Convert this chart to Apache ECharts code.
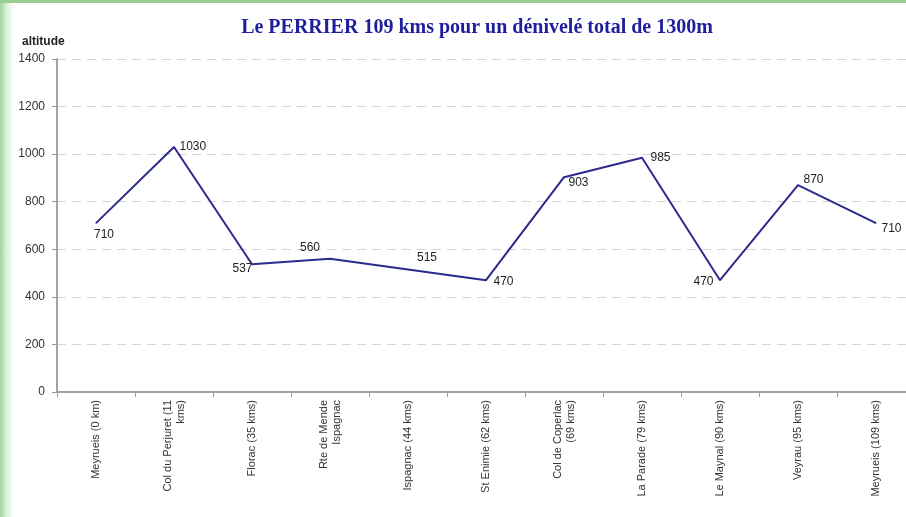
<!DOCTYPE html>
<html>
<head>
<meta charset="utf-8">
<script src="https://cdn.jsdelivr.net/npm/echarts@6/dist/echarts.min.js"></script>
<style>
* {
  margin: 0;
  padding: 0;
}
body {
  width: 906px;
  height: 517px;
  overflow: hidden;
  background: linear-gradient(to right, #9ed69a 0, #d6efd3 6px, #ffffff 14px);
}
#chart-container {
  position: relative;
  width: 906px;
  height: 517px;
  border-top: 3px solid #9ccf96;
  box-sizing: border-box;
}
</style>
</head>
<body>
<div id="chart-container"></div>
<script>
const categories = [
  'Meyrueis (0 km)',
  'Col du Perjuret (11\nkms)',
  'Florac (35 kms)',
  'Rte de Mende\nIspagnac',
  'Ispagnac (44 kms)',
  'St Enimie (62 kms)',
  'Col de Coperlac\n(69 kms)',
  'La Parade (79 kms)',
  'Le Maynal (90 kms)',
  'Veyrau (95 kms)',
  'Meyrueis (109 kms)'
]
const altitudes = [710, 1030, 537, 560, 515, 470, 903, 985, 470, 870, 710]

// where each value label sits around its point
const labelPlace = [
  { position: 'bottom', offset: [8, 0] },
  { position: 'right', offset: [0, 0] },
  { position: 'left', offset: [6, 4] },
  { position: 'top', offset: [-20, 0] },
  { position: 'top', offset: [19, 0] },
  { position: 'right', offset: [2, 1] },
  { position: 'right', offset: [-1, 5] },
  { position: 'right', offset: [3, 0] },
  { position: 'left', offset: [-1, 1] },
  { position: 'right', offset: [0, -5] },
  { position: 'right', offset: [0, 6] }
]

const chart = echarts.init(document.getElementById('chart-container'), null, { renderer: 'canvas' })

const option = {
  animation: false,
  backgroundColor: 'transparent',
  title: [
    {
      text: 'Le PERRIER 109 kms pour un dénivelé total de 1300m',
      left: 472,
      top: 10,
      textAlign: 'center',
      textStyle: {
        fontFamily: 'Liberation Serif',
        fontWeight: 'bold',
        fontSize: 20,
        color: '#1f1f9e'
      }
    },
    {
      text: 'altitude',
      left: 17,
      top: 28,
      textStyle: {
        fontFamily: 'Liberation Sans',
        fontWeight: 'bold',
        fontSize: 12,
        color: '#222'
      }
    }
  ],
  grid: {
    left: 57,
    top: 56,
    width: 858,
    height: 333,
    outerBoundsMode: 'none',
    containLabel: false
  },
  xAxis: {
    type: 'category',
    data: categories,
    boundaryGap: true,
    axisLine: { lineStyle: { color: '#a3a3a3', width: 2 } },
    axisTick: { show: true, length: 5, lineStyle: { color: '#999' } },
    axisLabel: {
      rotate: 90,
      interval: 0,
      margin: 8,
      fontFamily: 'Liberation Sans',
      fontSize: 11,
      lineHeight: 13,
      color: '#333'
    },
    splitLine: { show: false }
  },
  yAxis: {
    type: 'value',
    min: 0,
    max: 1400,
    interval: 200,
    axisLine: { show: true, lineStyle: { color: '#a3a3a3', width: 2 } },
    axisTick: { show: true, length: 5, lineStyle: { color: '#999' } },
    axisLabel: {
      margin: 12,
      formatter: (v) => String(v),
      fontFamily: 'Liberation Sans',
      fontSize: 12,
      color: '#333'
    },
    splitLine: {
      show: true,
      lineStyle: { color: '#d4d4d4', type: [9, 6], width: 1 }
    }
  },
  series: [
    {
      type: 'line',
      data: altitudes.map((v, i) => ({
        value: v,
        label: { position: labelPlace[i].position, offset: labelPlace[i].offset }
      })),
      showSymbol: true,
      symbol: 'circle',
      symbolSize: 1,
      itemStyle: { color: '#2b2b8c' },
      lineStyle: { color: '#2b2b8c', width: 2 },
      label: {
        show: true,
        distance: 5,
        fontFamily: 'Liberation Sans',
        fontSize: 12,
        color: '#222'
      }
    }
  ]
}

chart.setOption(option)
</script>
</body>
</html>
